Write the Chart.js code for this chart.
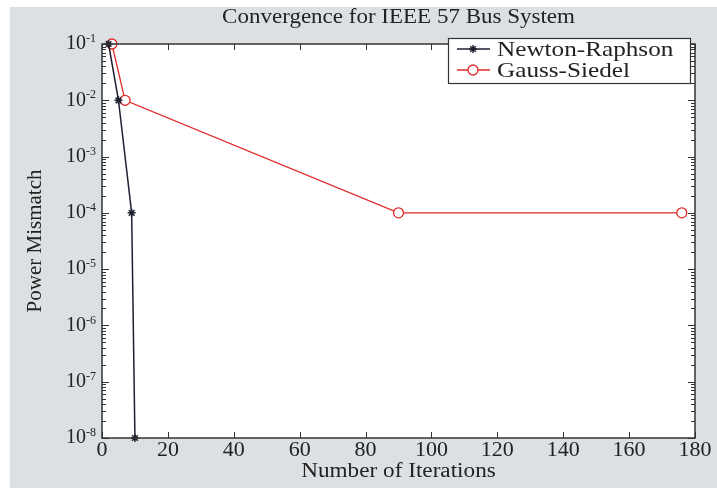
<!DOCTYPE html>
<html>
<head>
<meta charset="utf-8">
<script src="https://cdn.jsdelivr.net/npm/chart.js@4.4.1/dist/chart.umd.min.js"></script>
<style>
  html, body { margin: 0; padding: 0; background: #ffffff; }
  #c { position: absolute; left: 0; top: 0; }
</style>
</head>
<body>
<canvas id="c" width="717" height="488"></canvas>
<script>
// Labels
const chartTitle = 'Convergence for IEEE 57 Bus System';
const xAxisTitle = 'Number of Iterations';
const yAxisTitle = 'Power Mismatch';

// Axis ticks
const xTickValues = [0, 20, 40, 60, 80, 100, 120, 140, 160, 180];
const yDecadeExponents = [-8, -7, -6, -5, -4, -3, -2, -1];

// Newton-Raphson series
const nrLabel = 'Newton-Raphson';
const nrIterations = [2, 5, 9, 10];
const nrMismatch = [1e-1, 1e-2, 1e-4, 1e-8];

// Gauss-Siedel series
const gsLabel = 'Gauss-Siedel';
const gsIterations = [3, 7, 90, 176];
const gsMismatch = [1e-1, 1e-2, 1e-4, 1e-4];

const SERIF = '"Liberation Serif", "Times New Roman", serif';
const INK = '#222222';
const AXIS = '#333333';
const PANEL = '#dde0e3';

const toPoints = (xs, ys) => xs.map((x, i) => ({ x: x, y: ys[i] }));

// text helper with a horizontal stretch factor
function drawText(ctx, text, x, y, size, align, sx, rot) {
  ctx.save();
  ctx.translate(x, y);
  if (rot) ctx.rotate(rot);
  ctx.scale(sx, 1);
  ctx.font = size + 'px ' + SERIF;
  ctx.textAlign = align;
  ctx.textBaseline = 'middle';
  ctx.fillStyle = INK;
  ctx.fillText(text, 0, 0);
  ctx.restore();
}

// Grey figure panel, white axes background
const backgroundPlugin = {
  id: 'figureBackground',
  beforeDraw(chart) {
    const { ctx, chartArea: a } = chart;
    ctx.save();
    ctx.fillStyle = '#ffffff';
    ctx.fillRect(0, 0, chart.width, chart.height);
    ctx.fillStyle = PANEL;
    ctx.fillRect(10, 7, chart.width - 10, chart.height - 7);
    ctx.fillStyle = '#ffffff';
    ctx.fillRect(a.left, a.top, a.right - a.left, a.bottom - a.top);
    ctx.restore();
  }
};

// Box, inward tick marks, tick labels, titles and legend
const decorPlugin = {
  id: 'axesDecor',
  afterDatasetsDraw(chart) {
    const { ctx, chartArea: a, scales } = chart;
    const xs = scales.x, ys = scales.y;
    ctx.save();
    ctx.strokeStyle = AXIS;
    ctx.lineWidth = 1;

    // inward ticks on x (top and bottom)
    ctx.beginPath();
    xs.ticks.forEach(t => {
      const px = Math.round(xs.getPixelForValue(t.value)) + 0.5;
      ctx.moveTo(px, a.bottom); ctx.lineTo(px, a.bottom - 6);
      ctx.moveTo(px, a.top); ctx.lineTo(px, a.top + 6);
    });
    // inward ticks on y (left and right), major and minor
    yDecadeExponents.forEach(e => {
      for (let m = 1; m <= 9; m++) {
        const v = m * Math.pow(10, e);
        if (v > ys.max * 1.0001) break;
        const py = Math.round(ys.getPixelForValue(v)) + 0.5;
        const len = m === 1 ? 7 : 4;
        ctx.moveTo(a.left, py); ctx.lineTo(a.left + len, py);
        ctx.moveTo(a.right, py); ctx.lineTo(a.right - len, py);
      }
    });
    ctx.stroke();

    // axes box
    ctx.lineWidth = 1.5;
    ctx.strokeRect(a.left, a.top, a.right - a.left, a.bottom - a.top);

    // x tick labels
    xs.ticks.forEach(t => {
      drawText(ctx, String(t.value), xs.getPixelForValue(t.value), a.bottom + 13, 20, 'center', 1.1);
    });

    // decade labels 10^e
    ctx.fillStyle = INK;
    ys.ticks.forEach(t => {
      const e = Math.round(Math.log10(t.value));
      const py = ys.getPixelForValue(t.value);
      const expText = String(e);
      ctx.font = '12px ' + SERIF;
      const ew = ctx.measureText(expText).width;
      drawText(ctx, expText, a.left - 6, py - 5, 12, 'right', 1);
      drawText(ctx, '10', a.left - 6 - ew, py, 20, 'right', 1);
    });

    // axis titles
    drawText(ctx, xAxisTitle, (a.left + a.right) / 2, 472, 20, 'center', 1.16);
    drawText(ctx, yAxisTitle, 35, (a.top + a.bottom) / 2, 21, 'center', 1, -Math.PI / 2);

    // title
    drawText(ctx, chartTitle, (a.left + a.right) / 2, 18, 20, 'center', 1.15);

    // legend
    const bx = 448, by = 38, bw = 242, bh = 45;
    ctx.fillStyle = '#ffffff';
    ctx.fillRect(bx, by, bw, bh);
    ctx.lineWidth = 1.2;
    ctx.strokeStyle = AXIS;
    ctx.strokeRect(bx + 0.5, by + 0.5, bw, bh);
    chart.data.datasets.forEach((ds, i) => {
      const ry = by + 11 + i * 21;
      ctx.strokeStyle = ds.borderColor;
      ctx.lineWidth = ds.borderWidth;
      ctx.beginPath();
      ctx.moveTo(bx + 9, ry); ctx.lineTo(bx + 42, ry);
      ctx.stroke();
      ctx.fillStyle = ds.backgroundColor;
      ctx.strokeStyle = ds.borderColor;
      ctx.lineWidth = ds.pointBorderWidth;
      Chart.helpers.drawPoint(ctx, {
        pointStyle: ds.pointStyle, radius: ds.pointRadius, borderWidth: ds.pointBorderWidth, rotation: 0
      }, bx + 25, ry);
      drawText(ctx, ds.label, bx + 49, ry + 1, 21, 'left', 1.2);
    });
    ctx.restore();
  }
};

new Chart(document.getElementById('c'), {
  type: 'line',
  data: {
    datasets: [
      {
        label: nrLabel,
        data: toPoints(nrIterations, nrMismatch),
        borderColor: '#1c2030',
        backgroundColor: '#1c2030',
        borderWidth: 1.5,
        pointStyle: 'star',
        pointRadius: 4,
        pointBorderWidth: 1.5,
        tension: 0
      },
      {
        label: gsLabel,
        data: toPoints(gsIterations, gsMismatch),
        borderColor: '#e02a2a',
        backgroundColor: '#ffffff',
        borderWidth: 1.3,
        pointStyle: 'circle',
        pointRadius: 5,
        pointBorderWidth: 1.3,
        tension: 0
      }
    ]
  },
  options: {
    responsive: false,
    devicePixelRatio: 1,
    animation: false,
    clip: false,
    layout: { padding: { top: 44, right: 22, left: 0, bottom: 0 } },
    plugins: {
      legend: { display: false },
      title: { display: false },
      tooltip: { enabled: false }
    },
    scales: {
      x: {
        type: 'linear',
        min: 0,
        max: 180,
        afterBuildTicks: s => { s.ticks = xTickValues.map(v => ({ value: v })); },
        ticks: { display: false },
        grid: { display: false },
        border: { display: false },
        afterFit: s => { s.height = 50; }
      },
      y: {
        type: 'logarithmic',
        min: 1e-8,
        max: 1e-1,
        afterBuildTicks: s => { s.ticks = yDecadeExponents.map(e => ({ value: Math.pow(10, e) })); },
        ticks: { display: false },
        grid: { display: false },
        border: { display: false },
        afterFit: s => { s.width = 102; }
      }
    }
  },
  plugins: [backgroundPlugin, decorPlugin]
});
</script>
</body>
</html>
